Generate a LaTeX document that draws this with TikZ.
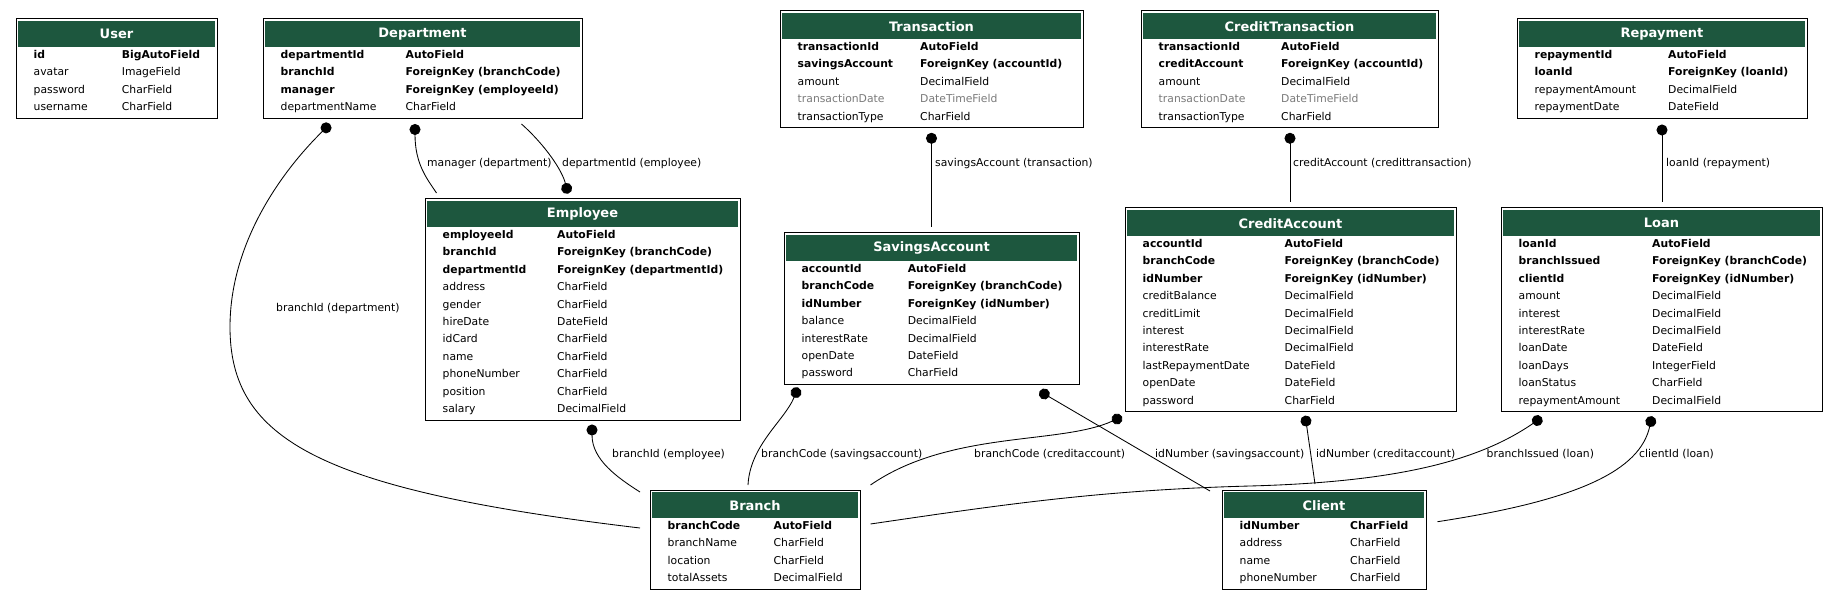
\documentclass[tikz,border=0pt]{standalone}
\usepackage{fontspec}
\setmainfont{DejaVu Sans}
\usetikzlibrary{arrows.meta}

\definecolor{hdrgreen}{RGB}{29,87,62}
\definecolor{dimgray}{RGB}{123,123,123}

\tikzset{
	modelbox/.style={draw=black, line width=1pt, fill=white, anchor=north west,
		inner sep=0pt, outer sep=0pt},
	modelhead/.style={fill=hdrgreen, text=white, anchor=north, inner sep=0pt,
		minimum height=26pt, font=\fontsize{13}{15}\selectfont\bfseries},
	fieldtxt/.style={anchor=west, inner sep=0pt, text height=7.9pt, text depth=0pt,
		font=\fontsize{10.8}{12}\selectfont},
	keyrow/.style={font=\fontsize{10.8}{12}\selectfont\bfseries},
	plainrow/.style={},
	dimrow/.style={text=dimgray},
	rel/.style={draw=black, line width=0.85pt},
	fkdot/.style={rel, {Circle[length=11pt]}-},
	fkdotend/.style={rel, -{Circle[length=11pt]}},
	relname/.style={fieldtxt}
}

% #1 name, #2 x, #3 y, #4 width, #5 rows, #6 type column, #7 title, #8 fields
\newcommand{\model}[8]{%
	\node[modelbox, minimum width=#4, minimum height=29.7+17.4*#5] (#1) at (#2,#3) {};
	\node[modelhead, minimum width=#4-4] (#1-head) at ([yshift=-2pt]#1.north) {#7};
	\foreach \s/\f/\t [count=\i from 0] in {#8} {
		\node[fieldtxt, \s] (#1-f\i) at ([shift={(17.5,35.5+17.4*\i)}]#1.north west) {\f};
		\node[fieldtxt, \s] (#1-t\i) at ([shift={(#6,35.5+17.4*\i)}]#1.north west) {\t};
	}%
}

\begin{document}
\begin{tikzpicture}[x=1pt, y=-1pt]
	\useasboundingbox (0,0) rectangle (1839,601);

	% models
	\model{user}{16}{19}{201}{4}{105.7}{User}{keyrow/id/BigAutoField,
		plainrow/avatar/ImageField, plainrow/password/CharField,
		plainrow/username/CharField}
	\model{dept}{263}{19}{319}{4}{142.5}{Department}{keyrow/departmentId/AutoField,
		keyrow/branchId/ForeignKey (branchCode), keyrow/manager/ForeignKey (employeeId),
		plainrow/departmentName/CharField}
	\model{trans}{780}{11}{303}{5}{140}{Transaction}{keyrow/transactionId/AutoField,
		keyrow/savingsAccount/ForeignKey (accountId), plainrow/amount/DecimalField,
		dimrow/transactionDate/DateTimeField, plainrow/transactionType/CharField}
	\model{ctrans}{1141}{11}{297}{5}{140}{CreditTransaction}{keyrow/transactionId/AutoField,
		keyrow/creditAccount/ForeignKey (accountId), plainrow/amount/DecimalField,
		dimrow/transactionDate/DateTimeField, plainrow/transactionType/CharField}
	\model{repay}{1517}{19}{290}{4}{151}{Repayment}{keyrow/repaymentId/AutoField,
		keyrow/loanId/ForeignKey (loanId), plainrow/repaymentAmount/DecimalField,
		plainrow/repaymentDate/DateField}
	\model{emp}{425}{199}{315}{11}{132}{Employee}{keyrow/employeeId/AutoField,
		keyrow/branchId/ForeignKey (branchCode), keyrow/departmentId/ForeignKey (departmentId),
		plainrow/address/CharField, plainrow/gender/CharField, plainrow/hireDate/DateField,
		plainrow/idCard/CharField, plainrow/name/CharField, plainrow/phoneNumber/CharField,
		plainrow/position/CharField, plainrow/salary/DecimalField}
	\model{sav}{784}{233}{295}{7}{123.6}{SavingsAccount}{keyrow/accountId/AutoField,
		keyrow/branchCode/ForeignKey (branchCode), keyrow/idNumber/ForeignKey (idNumber),
		plainrow/balance/DecimalField, plainrow/interestRate/DecimalField,
		plainrow/openDate/DateField, plainrow/password/CharField}
	\model{cacc}{1125}{208}{331}{10}{159.5}{CreditAccount}{keyrow/accountId/AutoField,
		keyrow/branchCode/ForeignKey (branchCode), keyrow/idNumber/ForeignKey (idNumber),
		plainrow/creditBalance/DecimalField, plainrow/creditLimit/DecimalField,
		plainrow/interest/DecimalField, plainrow/interestRate/DecimalField,
		plainrow/lastRepaymentDate/DateField, plainrow/openDate/DateField,
		plainrow/password/CharField}
	\model{loan}{1501}{208}{321}{10}{151}{Loan}{keyrow/loanId/AutoField,
		keyrow/branchIssued/ForeignKey (branchCode), keyrow/clientId/ForeignKey (idNumber),
		plainrow/amount/DecimalField, plainrow/interest/DecimalField,
		plainrow/interestRate/DecimalField, plainrow/loanDate/DateField,
		plainrow/loanDays/IntegerField, plainrow/loanStatus/CharField,
		plainrow/repaymentAmount/DecimalField}
	\model{branch}{650}{490}{210}{4}{123.5}{Branch}{keyrow/branchCode/AutoField,
		plainrow/branchName/CharField, plainrow/location/CharField,
		plainrow/totalAssets/DecimalField}
	\model{client}{1222}{490}{204}{4}{128}{Client}{keyrow/idNumber/CharField,
		plainrow/address/CharField, plainrow/name/CharField,
		plainrow/phoneNumber/CharField}

	% relations
	\draw[fkdot] ([shift={(67,5.7)}]dept.south west)
		.. controls (285,168) and (230,240) .. (230,327)
		.. controls (230,440) and (320,490) .. ([shift={(-10,38)}]branch.north west);
	\draw[fkdot] ([shift={(152,5.7)}]dept.south west)
		.. controls (415,165) and (428,180) .. ([shift={(11.5,-6)}]emp.north west);
	\draw[fkdotend] ([shift={(258.5,5.7)}]dept.south west)
		.. controls (545,145) and (562,170) .. ([shift={(143,-5.3)}]emp.north west);
	\draw[fkdot] ([shift={(167,4.4)}]emp.south west)
		.. controls (592,460) and (618,478) .. ([shift={(-10,2)}]branch.north west);
	\draw[fkdot] ([shift={(151.5,5.1)}]trans.south west) -- ([shift={(147.5,-6)}]sav.north west);
	\draw[fkdot] ([shift={(149,5.1)}]ctrans.south west) -- ([shift={(165,-6)}]cacc.north west);
	\draw[fkdot] ([shift={(145,6.2)}]repay.south west) -- ([shift={(161,-6)}]loan.north west);
	\draw[fkdot] ([shift={(14,3)}]sav.south west)
		.. controls (785,420) and (750,445) .. ([shift={(98,-5)}]branch.north west);
	\draw[fkdot] ([shift={(255.6,6.7)}]sav.south west) -- ([shift={(-12,1)}]client.north west);
	\draw[fkdot] ([shift={(-3,5)}]cacc.south west)
		.. controls (1060,445) and (950,430) .. ([shift={(10.5,-5)}]branch.north east);
	\draw[fkdot] ([shift={(180.2,3.9)}]cacc.south west) -- ([shift={(93,-6)}]client.north west);
	\draw[fkdot] ([shift={(40.8,5.7)}]loan.south west)
		.. controls (1480,460) and (1400,482) .. (1250,486)
		.. controls (1100,490) and (1000,505) .. ([shift={(10.5,34)}]branch.north east);
	\draw[fkdot] ([shift={(151,4.5)}]loan.south west)
		.. controls (1640,470) and (1580,500) .. ([shift={(11.5,31.7)}]client.north east);

	% relation names
	\node[relname] (n-brdept) at (276,308) {branchId (department)};
	\node[relname] (n-mgr) at (427,163) {manager (department)};
	\node[relname] (n-deptemp) at (562,163) {departmentId (employee)};
	\node[relname] (n-savtr) at (935,163) {savingsAccount (transaction)};
	\node[relname] (n-cacctr) at (1293,163) {creditAccount (credittransaction)};
	\node[relname] (n-loanrp) at (1666,163) {loanId (repayment)};
	\node[relname] (n-bremp) at (612,454) {branchId (employee)};
	\node[relname] (n-brsav) at (761,454) {branchCode (savingsaccount)};
	\node[relname] (n-brcacc) at (974,454) {branchCode (creditaccount)};
	\node[relname] (n-idsav) at (1155,454) {idNumber (savingsaccount)};
	\node[relname] (n-idcacc) at (1316,454) {idNumber (creditaccount)};
	\node[relname] (n-brloan) at (1486.5,454) {branchIssued (loan)};
	\node[relname] (n-clloan) at (1639,454) {clientId (loan)};
\end{tikzpicture}
\end{document}
